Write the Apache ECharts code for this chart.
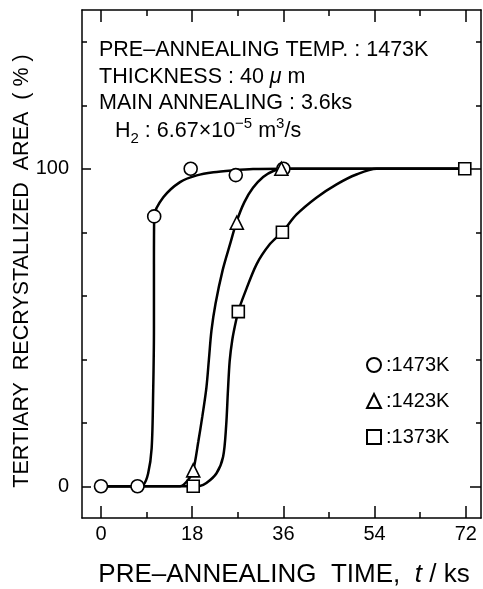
<!DOCTYPE html>
<html style="height: 100%">
<head>
<meta charset="utf-8">
<script src="https://cdn.jsdelivr.net/npm/echarts@6.0.0/dist/echarts.min.js"></script>
</head>
<body style="height: 100%; margin: 0; background: #fff">
<div id="container" style="width: 483px; height: 589px"></div>
<script type="text/javascript">
// measured points (time in ks, area in %)
var pts1473 = [[0, 0], [7.2, 0], [10.5, 85], [17.7, 100], [26.6, 98], [36, 100]];
var pts1423 = [[18.2, 5], [26.8, 83], [35.6, 100]];
var pts1373 = [[18.2, 0], [27.1, 55], [35.8, 80], [71.8, 100]];

// fitted curves
var fit1473 = [[0, 0], [7.2, 0], [8.3, 0.3], [9.3, 4], [10.0, 12], [10.3, 30], [10.45, 50], [10.45, 70], [10.5, 85],
    [12.3, 91], [15.6, 95.8], [18.9, 97.9], [22.2, 98.9], [26.1, 99.5], [30, 99.9], [36, 100], [72, 100]];
var fit1423 = [[0, 0], [15.6, 0], [17.2, 2], [18.2, 5], [19.2, 14], [20.0, 22], [20.8, 31], [21.3, 40], [21.8, 49],
    [22.6, 57.5], [24.0, 68], [25.5, 76.4], [26.8, 83.5], [28.3, 89.5], [30, 94], [32, 97.4], [34, 99.3], [36, 100], [72, 100]];
var fit1373 = [[0, 0], [18, 0], [19.5, 0.1], [20.8, 1], [22.8, 4.1], [24.1, 9.3], [24.7, 19], [25.05, 30], [25.4, 39.5],
    [25.9, 46], [26.5, 51], [27.1, 55.1], [28.3, 60.5], [30.7, 69.9], [33.3, 76.2], [35.8, 80.1], [38.6, 85.6], [42.5, 90.9],
    [46.5, 95.1], [50.4, 98.2], [54.4, 100], [72, 100]];

var xMajor = [0, 18, 36, 54, 72];
var xMinor = [9, 27, 45, 63];
var yMajor = [0, 100];
var yMinor = [20, 40, 60, 80, 120, 140];
var legendNames = [':1473K', ':1423K', ':1373K'];

var FONT = '"Liberation Sans", Arial, sans-serif';
var dom = document.getElementById('container');
var myChart = echarts.init(dom);

function xAx(pos, ticks, len, labels, line) {
    return {
        type: 'value', position: pos, min: -3.75, max: 75,
        axisLine: {show: line, onZero: false, lineStyle: {color: '#000', width: 1.5}},
        axisTick: {show: true, inside: true, length: len, customValues: ticks, lineStyle: {color: '#000', width: 1.5}},
        axisLabel: labels ? {customValues: ticks, color: '#000', fontSize: 20, fontFamily: FONT, margin: 6} : {show: false},
        splitLine: {show: false}
    };
}
function yAx(pos, ticks, len, labels, line) {
    return {
        type: 'value', position: pos, min: -10, max: 150,
        axisLine: {show: line, onZero: false, lineStyle: {color: '#000', width: 1.5}},
        axisTick: {show: true, inside: true, length: len, customValues: ticks, lineStyle: {color: '#000', width: 1.5}},
        axisLabel: labels ? {customValues: ticks, color: '#000', fontSize: 20, fontFamily: FONT, margin: 13} : {show: false},
        splitLine: {show: false}
    };
}

function fitLine(name, data) {
    return {
        name: name, type: 'line', data: data, showSymbol: false, symbol: 'none',
        smooth: 0.3, silent: true, z: 2,
        lineStyle: {color: '#000', width: 2.5}
    };
}
function marks(name, sym, size, data) {
    return {
        name: name, type: 'scatter', data: data, symbol: sym, symbolSize: size, z: 5,
        itemStyle: {color: '#fff', borderColor: '#000', borderWidth: 1.6, opacity: 1}
    };
}

option = {
    animation: false,
    backgroundColor: '#fff',
    grid: {left: 82, right: 2, top: 10, bottom: 71, containLabel: false},
    xAxis: [
        xAx('bottom', xMajor, 12, true, true),
        xAx('bottom', xMinor, 6, false, false),
        xAx('top', xMajor, 12, false, true),
        xAx('top', xMinor, 6, false, false)
    ],
    yAxis: [
        yAx('left', yMajor, 9, true, true),
        yAx('left', yMinor, 5, false, false),
        yAx('right', yMajor, 11, false, true),
        yAx('right', yMinor, 5, false, false)
    ],
    legend: {
        orient: 'vertical', left: 361, top: 350, itemWidth: 14, itemHeight: 14, itemGap: 16,
        textStyle: {color: '#000', fontSize: 20, fontFamily: FONT, lineHeight: 20},
        data: [
            {name: legendNames[0], icon: 'circle'},
            {name: legendNames[1], icon: 'triangle'},
            {name: legendNames[2], icon: 'rect'}
        ]
    },
    series: [
        fitLine('f1473', fit1473),
        fitLine('f1423', fit1423),
        fitLine('f1373', fit1373),
        marks(legendNames[0], 'circle', 13, pts1473),
        marks(legendNames[1], 'triangle', 13, pts1423),
        marks(legendNames[2], 'rect', 12, pts1373)
    ],
    graphic: [
        {type: 'text', x: 99, y: 50, style: {text: 'PRE–ANNEALING TEMP. : 1473K', font: '21.5px ' + FONT, fill: '#000', verticalAlign: 'middle'}},
        {type: 'text', x: 99, y: 77, style: {text: 'THICKNESS : 40 {mu|μ} m', font: '21.5px ' + FONT, fill: '#000', verticalAlign: 'middle',
            rich: {mu: {fontStyle: 'italic', fontSize: 21.5, fontFamily: FONT}}}},
        {type: 'text', x: 99, y: 103, style: {text: 'MAIN ANNEALING : 3.6ks', font: '21.5px ' + FONT, fill: '#000', verticalAlign: 'middle'}},
        {type: 'text', x: 115, y: 131, style: {
            text: '{n|H}{sub|2}{n| : 6.67×10}{sup|−5}{n| m}{sup|3}{n|/s}', fill: '#000', verticalAlign: 'middle',
            rich: {
                n: {fontSize: 21.5, fontFamily: FONT, lineHeight: 30, verticalAlign: 'middle'},
                sub: {fontSize: 15, fontFamily: FONT, lineHeight: 15, verticalAlign: 'bottom'},
                sup: {fontSize: 15, fontFamily: FONT, lineHeight: 15, verticalAlign: 'top'}
            }}},
        {type: 'text', x: 22, y: 271, rotation: Math.PI / 2, style: {
            text: 'TERTIARY  RECRYSTALLIZED  AREA  ( % )', font: '21.5px ' + FONT, fill: '#000', align: 'center', verticalAlign: 'middle'}},
        {type: 'text', x: 284, y: 575, style: {
            text: '{n|PRE–ANNEALING  TIME,  }{i|t}{n| / ks}', fill: '#000', align: 'center', verticalAlign: 'middle',
            rich: {
                n: {fontSize: 26, fontFamily: FONT},
                i: {fontSize: 26, fontFamily: FONT, fontStyle: 'italic'}
            }}}
    ]
};

myChart.setOption(option, true);
</script>
</body>
</html>
